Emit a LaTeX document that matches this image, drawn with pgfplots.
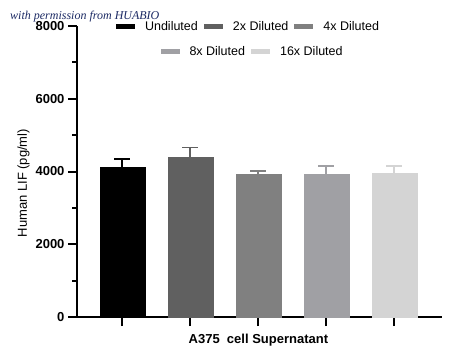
\documentclass[border=0pt]{standalone}
\usepackage{pgfplots}
\pgfplotsset{compat=1.18}
\usepackage{fontspec}
\setmainfont{Liberation Sans}
\newfontfamily\wmfont{Liberation Serif}
\definecolor{c1}{HTML}{000000}
\definecolor{c2}{HTML}{606060}
\definecolor{c3}{HTML}{808080}
\definecolor{c4}{HTML}{A0A0A4}
\definecolor{c5}{HTML}{D4D4D4}
\definecolor{wm}{HTML}{1C2A64}
\pgfplotsset{
  common/.style={
    at={(77pt,43pt)}, anchor=south west,
    scale only axis, width=365pt, height=291pt,
    xmin=-0.666, xmax=4.70, ymin=0, ymax=8000,
  },
  legimg/.style={legend image code/.code={\path[draw=none,fill=none] (0pt,0pt) rectangle (27pt,0pt);\path[##1,draw=none] (0pt,-2.5pt) rectangle (19pt,2.5pt);}},
  legsty/.style={legend style={draw=none, fill=none, anchor=center,
     font=\fontsize{12.5}{14}\selectfont,
     /tikz/every even column/.append style={column sep=4pt}}},
}
\begin{document}
\begin{tikzpicture}
\useasboundingbox (0,0) rectangle (450pt,360pt);
\node[anchor=base west, font=\wmfont\itshape\fontsize{12}{13}\selectfont, text=wm, inner sep=0pt] at (10pt,341pt) {with permission from HUABIO};
\begin{axis}[common,
  axis x line*=bottom, axis y line*=left,
  axis line style={line width=2.5pt, -},
  tick style={line width=2pt, black},
  tick align=outside,
  major tick length=9pt, minor tick length=5pt,
  xtick={0,1,2,3,4}, xticklabels={},
  ytick={0,2000,4000,6000,8000}, minor ytick={1000,3000,5000,7000},
  yticklabel style={/pgf/number format/assume math mode=true, font=\fontsize{13}{14}\selectfont\bfseries},
  /pgf/number format/1000 sep={},
  xlabel={A375\ \ cell Supernatant},
  xlabel style={font=\fontsize{13}{14}\selectfont\bfseries, at={(axis description cs:0.497,-0.079)}, anchor=center},
  ylabel={Human LIF (pg/ml)},
  ylabel style={font=\fontsize{13}{15}\selectfont, at={(axis description cs:-0.1466,0.46)}, anchor=center},
  legimg, legsty,
  legend style={at={(0.47,0.997)}},
  legend columns=3,
  clip=false,
]
\addplot[ybar, bar shift=0pt, bar width=45pt, fill=c1, draw=c1, line width=0.4pt,
  error bars/.cd, y dir=plus, y explicit,
  error bar style={draw=c1, line width=1.8pt},
  error mark options={rotate=90, mark size=8pt, line width=1.8pt, draw=c1}]
  coordinates {(0,4121) +- (0,228)};
\addlegendentry{Undiluted}
\addplot[ybar, bar shift=0pt, bar width=45pt, fill=c2, draw=c2, line width=0.4pt,
  error bars/.cd, y dir=plus, y explicit,
  error bar style={draw=c2, line width=1.8pt},
  error mark options={rotate=90, mark size=8pt, line width=1.8pt, draw=c2}]
  coordinates {(1,4396) +- (0,264)};
\addlegendentry{2x Diluted}
\addplot[ybar, bar shift=0pt, bar width=45pt, fill=c3, draw=c3, line width=0.4pt,
  error bars/.cd, y dir=plus, y explicit,
  error bar style={draw=c3, line width=1.8pt},
  error mark options={rotate=90, mark size=8pt, line width=1.8pt, draw=c3}]
  coordinates {(2,3918) +- (0,101)};
\addlegendentry{4x Diluted}
\addplot[forget plot, ybar, bar shift=0pt, bar width=45pt, fill=c4, draw=c4, line width=0.4pt,
  error bars/.cd, y dir=plus, y explicit,
  error bar style={draw=c4, line width=1.8pt},
  error mark options={rotate=90, mark size=8pt, line width=1.8pt, draw=c4}]
  coordinates {(3,3918) +- (0,239)};
\addplot[forget plot, ybar, bar shift=0pt, bar width=45pt, fill=c5, draw=c5, line width=0.4pt,
  error bars/.cd, y dir=plus, y explicit,
  error bar style={draw=c5, line width=1.8pt},
  error mark options={rotate=90, mark size=8pt, line width=1.8pt, draw=c5}]
  coordinates {(4,3964) +- (0,184)};
\end{axis}
\begin{axis}[common, hide axis, legimg, legsty,
  legend style={at={(0.481,0.911)}}, legend columns=2]
\addlegendimage{fill=c4}
\addlegendentry{8x Diluted}
\addlegendimage{fill=c5}
\addlegendentry{16x Diluted}
\end{axis}
\end{tikzpicture}
\end{document}
